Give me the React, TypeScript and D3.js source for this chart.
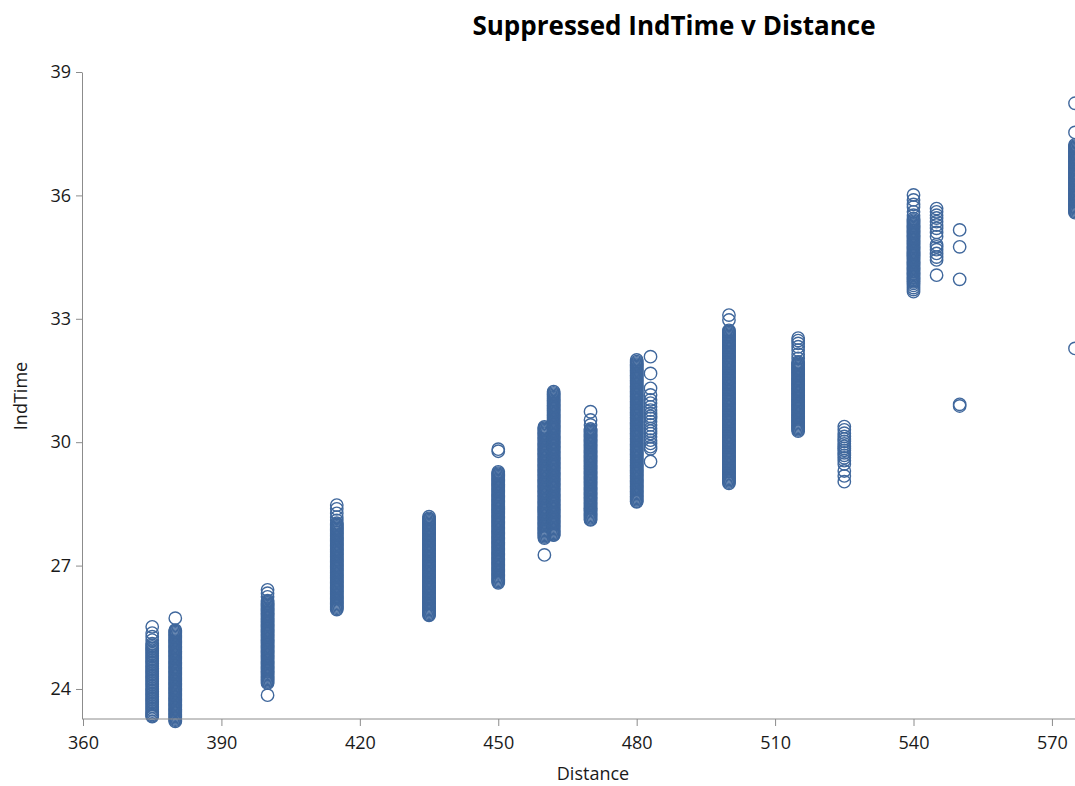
import React, { useRef, useEffect } from 'react';
import * as d3 from 'd3';

// Suppressed IndTime readings grouped by race distance
const distances = [375, 380, 400, 415, 435, 450, 460, 462, 470, 480, 483, 500, 515, 525, 540, 545, 550, 575];

const t375 = [25.51, 25.36, 25.27, 25.19, 25.1, 25.06, 25.02, 24.98, 24.94, 24.9, 24.86, 24.82, 24.78, 24.74, 24.7, 24.66, 24.62, 24.58, 24.54, 24.5, 24.46, 24.42, 24.38, 24.34, 24.3, 24.26, 24.22, 24.18, 24.14, 24.1, 24.06, 24.02, 23.98, 23.94, 23.9, 23.86, 23.82, 23.78, 23.74, 23.7, 23.66, 23.62, 23.58, 23.54, 23.5, 23.46, 23.42, 23.38, 23.35, 23.33];
const t380 = [25.72, 25.43, 25.4, 25.37, 25.34, 25.31, 25.28, 25.25, 25.22, 25.19, 25.16, 25.13, 25.1, 25.07, 25.04, 25.01, 24.98, 24.95, 24.92, 24.89, 24.86, 24.83, 24.8, 24.77, 24.74, 24.71, 24.68, 24.65, 24.62, 24.59, 24.56, 24.53, 24.5, 24.47, 24.44, 24.41, 24.38, 24.35, 24.32, 24.29, 24.26, 24.23, 24.2, 24.17, 24.14, 24.11, 24.08, 24.05, 24.02, 23.99, 23.96, 23.93, 23.9, 23.87, 23.84, 23.81, 23.78, 23.75, 23.72, 23.69, 23.66, 23.63, 23.6, 23.57, 23.54, 23.51, 23.48, 23.45, 23.42, 23.39, 23.36, 23.33, 23.3, 23.27, 23.24, 23.21];
const t400 = [26.41, 26.33, 26.24, 26.15, 26.12, 26.09, 26.06, 26.03, 26.0, 25.97, 25.94, 25.91, 25.88, 25.85, 25.82, 25.79, 25.76, 25.73, 25.7, 25.67, 25.64, 25.61, 25.58, 25.55, 25.52, 25.49, 25.46, 25.43, 25.4, 25.37, 25.34, 25.31, 25.28, 25.25, 25.22, 25.19, 25.16, 25.13, 25.1, 25.07, 25.04, 25.01, 24.98, 24.95, 24.92, 24.89, 24.86, 24.83, 24.8, 24.77, 24.74, 24.71, 24.68, 24.65, 24.62, 24.59, 24.56, 24.53, 24.5, 24.47, 24.44, 24.41, 24.38, 24.35, 24.32, 24.29, 24.26, 24.23, 24.2, 24.17, 24.14, 23.85];
const t415 = [28.47, 28.38, 28.27, 28.18, 28.1, 28.03, 28.0, 27.97, 27.94, 27.91, 27.88, 27.85, 27.82, 27.79, 27.76, 27.73, 27.7, 27.67, 27.64, 27.61, 27.58, 27.55, 27.52, 27.49, 27.46, 27.43, 27.4, 27.37, 27.34, 27.31, 27.28, 27.25, 27.22, 27.19, 27.16, 27.13, 27.1, 27.07, 27.04, 27.01, 26.98, 26.95, 26.92, 26.89, 26.86, 26.83, 26.8, 26.77, 26.74, 26.71, 26.68, 26.65, 26.62, 26.59, 26.56, 26.53, 26.5, 26.47, 26.44, 26.41, 26.38, 26.35, 26.32, 26.29, 26.26, 26.23, 26.2, 26.17, 26.14, 26.11, 26.08, 26.05, 26.02, 25.99, 25.96, 25.93];
const t435 = [28.19, 28.15, 28.12, 28.09, 28.06, 28.03, 28.0, 27.97, 27.94, 27.91, 27.88, 27.85, 27.82, 27.79, 27.76, 27.73, 27.7, 27.67, 27.64, 27.61, 27.58, 27.55, 27.52, 27.49, 27.46, 27.43, 27.4, 27.37, 27.34, 27.31, 27.28, 27.25, 27.22, 27.19, 27.16, 27.13, 27.1, 27.07, 27.04, 27.01, 26.98, 26.95, 26.92, 26.89, 26.86, 26.83, 26.8, 26.77, 26.74, 26.71, 26.68, 26.65, 26.62, 26.59, 26.56, 26.53, 26.5, 26.47, 26.44, 26.41, 26.38, 26.35, 26.32, 26.29, 26.26, 26.23, 26.2, 26.17, 26.14, 26.11, 26.08, 26.05, 26.02, 25.99, 25.96, 25.93, 25.9, 25.87, 25.84, 25.81, 25.79];
const t450 = [29.83, 29.78, 29.28, 29.25, 29.22, 29.19, 29.16, 29.13, 29.1, 29.07, 29.04, 29.01, 28.98, 28.95, 28.92, 28.89, 28.86, 28.83, 28.8, 28.77, 28.74, 28.71, 28.68, 28.65, 28.62, 28.59, 28.56, 28.53, 28.5, 28.47, 28.44, 28.41, 28.38, 28.35, 28.32, 28.29, 28.26, 28.23, 28.2, 28.17, 28.14, 28.11, 28.08, 28.05, 28.02, 27.99, 27.96, 27.93, 27.9, 27.87, 27.84, 27.81, 27.78, 27.75, 27.72, 27.69, 27.66, 27.63, 27.6, 27.57, 27.54, 27.51, 27.48, 27.45, 27.42, 27.39, 27.36, 27.33, 27.3, 27.27, 27.24, 27.21, 27.18, 27.15, 27.12, 27.09, 27.06, 27.03, 27.0, 26.97, 26.94, 26.91, 26.88, 26.85, 26.82, 26.79, 26.76, 26.73, 26.7, 26.67, 26.64, 26.61, 26.58];
const t460 = [30.37, 30.34, 30.31, 30.28, 30.25, 30.22, 30.19, 30.16, 30.13, 30.1, 30.07, 30.04, 30.01, 29.98, 29.95, 29.92, 29.89, 29.86, 29.83, 29.8, 29.77, 29.74, 29.71, 29.68, 29.65, 29.62, 29.59, 29.56, 29.53, 29.5, 29.47, 29.44, 29.41, 29.38, 29.35, 29.32, 29.29, 29.26, 29.23, 29.2, 29.17, 29.14, 29.11, 29.08, 29.05, 29.02, 28.99, 28.96, 28.93, 28.9, 28.87, 28.84, 28.81, 28.78, 28.75, 28.72, 28.69, 28.66, 28.63, 28.6, 28.57, 28.54, 28.51, 28.48, 28.45, 28.42, 28.39, 28.36, 28.33, 28.3, 28.27, 28.24, 28.21, 28.18, 28.15, 28.12, 28.09, 28.06, 28.03, 28.0, 27.97, 27.94, 27.91, 27.88, 27.85, 27.82, 27.79, 27.76, 27.73, 27.7, 27.67, 27.26];
const t462 = [31.23, 31.2, 31.17, 31.14, 31.11, 31.08, 31.05, 31.02, 30.99, 30.96, 30.93, 30.9, 30.87, 30.84, 30.81, 30.78, 30.75, 30.72, 30.69, 30.66, 30.63, 30.6, 30.57, 30.54, 30.51, 30.48, 30.45, 30.42, 30.39, 30.36, 30.33, 30.3, 30.27, 30.24, 30.21, 30.18, 30.15, 30.12, 30.09, 30.06, 30.03, 30.0, 29.97, 29.94, 29.91, 29.88, 29.85, 29.82, 29.79, 29.76, 29.73, 29.7, 29.67, 29.64, 29.61, 29.58, 29.55, 29.52, 29.49, 29.46, 29.43, 29.4, 29.37, 29.34, 29.31, 29.28, 29.25, 29.22, 29.19, 29.16, 29.13, 29.1, 29.07, 29.04, 29.01, 28.98, 28.95, 28.92, 28.89, 28.86, 28.83, 28.8, 28.77, 28.74, 28.71, 28.68, 28.65, 28.62, 28.59, 28.56, 28.53, 28.5, 28.47, 28.44, 28.41, 28.38, 28.35, 28.32, 28.29, 28.26, 28.23, 28.2, 28.17, 28.14, 28.11, 28.08, 28.05, 28.02, 27.99, 27.96, 27.93, 27.9, 27.87, 27.84, 27.81, 27.78, 27.75, 27.74];
const t470 = [30.74, 30.54, 30.42, 30.32, 30.29, 30.26, 30.23, 30.2, 30.17, 30.14, 30.11, 30.08, 30.05, 30.02, 29.99, 29.96, 29.93, 29.9, 29.87, 29.84, 29.81, 29.78, 29.75, 29.72, 29.69, 29.66, 29.63, 29.6, 29.57, 29.54, 29.51, 29.48, 29.45, 29.42, 29.39, 29.36, 29.33, 29.3, 29.27, 29.24, 29.21, 29.18, 29.15, 29.12, 29.09, 29.06, 29.03, 29.0, 28.97, 28.94, 28.91, 28.88, 28.85, 28.82, 28.79, 28.76, 28.73, 28.7, 28.67, 28.64, 28.61, 28.58, 28.55, 28.52, 28.49, 28.46, 28.43, 28.4, 28.37, 28.34, 28.31, 28.28, 28.25, 28.22, 28.19, 28.16, 28.13, 28.11];
const t480 = [32.0, 31.96, 31.93, 31.9, 31.87, 31.84, 31.81, 31.78, 31.75, 31.72, 31.69, 31.66, 31.63, 31.6, 31.57, 31.54, 31.51, 31.48, 31.45, 31.42, 31.39, 31.36, 31.33, 31.3, 31.27, 31.24, 31.21, 31.18, 31.15, 31.12, 31.09, 31.06, 31.03, 31.0, 30.97, 30.94, 30.91, 30.88, 30.85, 30.82, 30.79, 30.76, 30.73, 30.7, 30.67, 30.64, 30.61, 30.58, 30.55, 30.52, 30.49, 30.46, 30.43, 30.4, 30.37, 30.34, 30.31, 30.28, 30.25, 30.22, 30.19, 30.16, 30.13, 30.1, 30.07, 30.04, 30.01, 29.98, 29.95, 29.92, 29.89, 29.86, 29.83, 29.8, 29.77, 29.74, 29.71, 29.68, 29.65, 29.62, 29.59, 29.56, 29.53, 29.5, 29.47, 29.44, 29.41, 29.38, 29.35, 29.32, 29.29, 29.26, 29.23, 29.2, 29.17, 29.14, 29.11, 29.08, 29.05, 29.02, 28.99, 28.96, 28.93, 28.9, 28.87, 28.84, 28.81, 28.78, 28.75, 28.72, 28.69, 28.66, 28.63, 28.6, 28.57, 28.55];
const t483 = [32.08, 31.67, 31.31, 31.15, 31.03, 30.95, 30.86, 30.78, 30.7, 30.63, 30.58, 30.5, 30.42, 30.33, 30.27, 30.21, 30.13, 30.05, 29.97, 29.89, 29.84, 29.53];
const t500 = [33.09, 32.97, 32.72, 32.69, 32.66, 32.63, 32.6, 32.57, 32.54, 32.51, 32.48, 32.45, 32.42, 32.39, 32.36, 32.33, 32.3, 32.27, 32.24, 32.21, 32.18, 32.15, 32.12, 32.09, 32.06, 32.03, 32.0, 31.97, 31.94, 31.91, 31.88, 31.85, 31.82, 31.79, 31.76, 31.73, 31.7, 31.67, 31.64, 31.61, 31.58, 31.55, 31.52, 31.49, 31.46, 31.43, 31.4, 31.37, 31.34, 31.31, 31.28, 31.25, 31.22, 31.19, 31.16, 31.13, 31.1, 31.07, 31.04, 31.01, 30.98, 30.95, 30.92, 30.89, 30.86, 30.83, 30.8, 30.77, 30.74, 30.71, 30.68, 30.65, 30.62, 30.59, 30.56, 30.53, 30.5, 30.47, 30.44, 30.41, 30.38, 30.35, 30.32, 30.29, 30.26, 30.23, 30.2, 30.17, 30.14, 30.11, 30.08, 30.05, 30.02, 29.99, 29.96, 29.93, 29.9, 29.87, 29.84, 29.81, 29.78, 29.75, 29.72, 29.69, 29.66, 29.63, 29.6, 29.57, 29.54, 29.51, 29.48, 29.45, 29.42, 29.39, 29.36, 29.33, 29.3, 29.27, 29.24, 29.21, 29.18, 29.15, 29.12, 29.09, 29.06, 29.03, 29.0];
const t515 = [32.53, 32.47, 32.4, 32.32, 32.24, 32.14, 32.04, 31.95, 31.92, 31.89, 31.86, 31.83, 31.8, 31.77, 31.74, 31.71, 31.68, 31.65, 31.62, 31.59, 31.56, 31.53, 31.5, 31.47, 31.44, 31.41, 31.38, 31.35, 31.32, 31.29, 31.26, 31.23, 31.2, 31.17, 31.14, 31.11, 31.08, 31.05, 31.02, 30.99, 30.96, 30.93, 30.9, 30.87, 30.84, 30.81, 30.78, 30.75, 30.72, 30.69, 30.66, 30.63, 30.6, 30.57, 30.54, 30.51, 30.48, 30.45, 30.42, 30.39, 30.36, 30.33, 30.3, 30.27];
const t525 = [30.38, 30.3, 30.22, 30.14, 30.08, 30.02, 29.96, 29.9, 29.85, 29.8, 29.74, 29.68, 29.62, 29.55, 29.47, 29.3, 29.18, 29.04];
const t540 = [36.01, 35.89, 35.78, 35.72, 35.6, 35.52, 35.44, 35.4, 35.37, 35.34, 35.31, 35.28, 35.25, 35.22, 35.19, 35.16, 35.13, 35.1, 35.07, 35.04, 35.01, 34.98, 34.95, 34.92, 34.89, 34.86, 34.83, 34.8, 34.77, 34.74, 34.71, 34.68, 34.65, 34.62, 34.59, 34.56, 34.53, 34.5, 34.47, 34.44, 34.41, 34.38, 34.35, 34.32, 34.29, 34.26, 34.23, 34.2, 34.17, 34.14, 34.11, 34.08, 34.05, 34.02, 33.99, 33.96, 33.93, 33.9, 33.86, 33.81, 33.76, 33.71, 33.66];
const t545 = [35.68, 35.6, 35.52, 35.45, 35.36, 35.28, 35.2, 35.1, 35.0, 34.8, 34.75, 34.68, 34.59, 34.5, 34.43, 34.06];
const t550 = [35.16, 34.75, 33.96, 30.92, 30.88];
const t575 = [38.24, 37.53, 37.23, 37.2, 37.17, 37.14, 37.11, 37.08, 37.05, 37.02, 36.99, 36.96, 36.93, 36.9, 36.87, 36.84, 36.81, 36.78, 36.75, 36.72, 36.69, 36.66, 36.63, 36.6, 36.57, 36.54, 36.51, 36.48, 36.45, 36.42, 36.39, 36.36, 36.33, 36.3, 36.27, 36.24, 36.21, 36.18, 36.15, 36.12, 36.09, 36.06, 36.03, 36.0, 35.97, 35.94, 35.91, 35.88, 35.85, 35.82, 35.79, 35.76, 35.73, 35.7, 35.67, 35.64, 35.61, 35.58, 32.28];

const indTimes = [t375, t380, t400, t415, t435, t450, t460, t462, t470, t480, t483, t500, t515, t525, t540, t545, t550, t575];

const xTicks = [360, 390, 420, 450, 480, 510, 540, 570];
const yTicks = [24, 27, 30, 33, 36, 39];

const W = 1075;
const H = 786;
const FONT = "'Open Sans', 'Noto Sans', sans-serif";

export default function App() {
  const svgRef = useRef<SVGSVGElement>(null);

  useEffect(() => {
    if (!svgRef.current) return;
    const svg = d3.select(svgRef.current);
    svg.selectAll('*').remove();

    const x = d3.scaleLinear().domain([360, 575]).range([83, 1075]);
    const y = d3.scaleLinear().domain([23.27, 39]).range([719, 72]);

    // points
    const pts = distances.flatMap((d, i) => indTimes[i].map((v) => ({ d, v })));
    svg.append('g')
      .selectAll('circle')
      .data(pts)
      .join('circle')
      .attr('cx', (p) => x(p.d))
      .attr('cy', (p) => y(p.v))
      .attr('r', 6.2)
      .attr('fill', 'none')
      .attr('stroke', '#3f679c')
      .attr('stroke-width', 1.4);

    // axes
    const xAxis = svg.append('g')
      .attr('transform', 'translate(0,719)')
      .call(d3.axisBottom(x).tickValues(xTicks).tickSize(7).tickSizeOuter(0).tickPadding(10));
    const yAxis = svg.append('g')
      .attr('transform', 'translate(82,0)')
      .call(d3.axisLeft(y).tickValues(yTicks).tickSize(6).tickSizeOuter(0).tickPadding(5));

    [xAxis, yAxis].forEach((a) => {
      a.select('.domain').attr('stroke', '#8c8c8c');
      a.selectAll('.tick line').attr('stroke', '#8c8c8c');
      a.selectAll('.tick text')
        .attr('fill', '#1a1a1a')
        .style('font-family', FONT)
        .style('font-size', '18px');
    });
    xAxis.select('.domain').attr('d', 'M83,0H1075');

    svg.append('text')
      .attr('x', 674)
      .attr('y', 35)
      .attr('text-anchor', 'middle')
      .style('font-family', FONT)
      .style('font-size', '26px')
      .style('font-weight', 'bold')
      .attr('fill', '#000')
      .text('Suppressed IndTime v Distance');

    svg.append('text')
      .attr('x', 593)
      .attr('y', 780)
      .attr('text-anchor', 'middle')
      .style('font-family', FONT)
      .style('font-size', '18px')
      .attr('fill', '#1a1a1a')
      .text('Distance');

    svg.append('text')
      .attr('transform', 'translate(27,396) rotate(-90)')
      .attr('text-anchor', 'middle')
      .style('font-family', FONT)
      .style('font-size', '18px')
      .attr('fill', '#1a1a1a')
      .text('IndTime');
  }, []);

  return (
    <svg
      ref={svgRef}
      width={W}
      height={H}
      style={{ position: 'absolute', left: 0, top: 0, background: '#fff' }}
    />
  );
}
